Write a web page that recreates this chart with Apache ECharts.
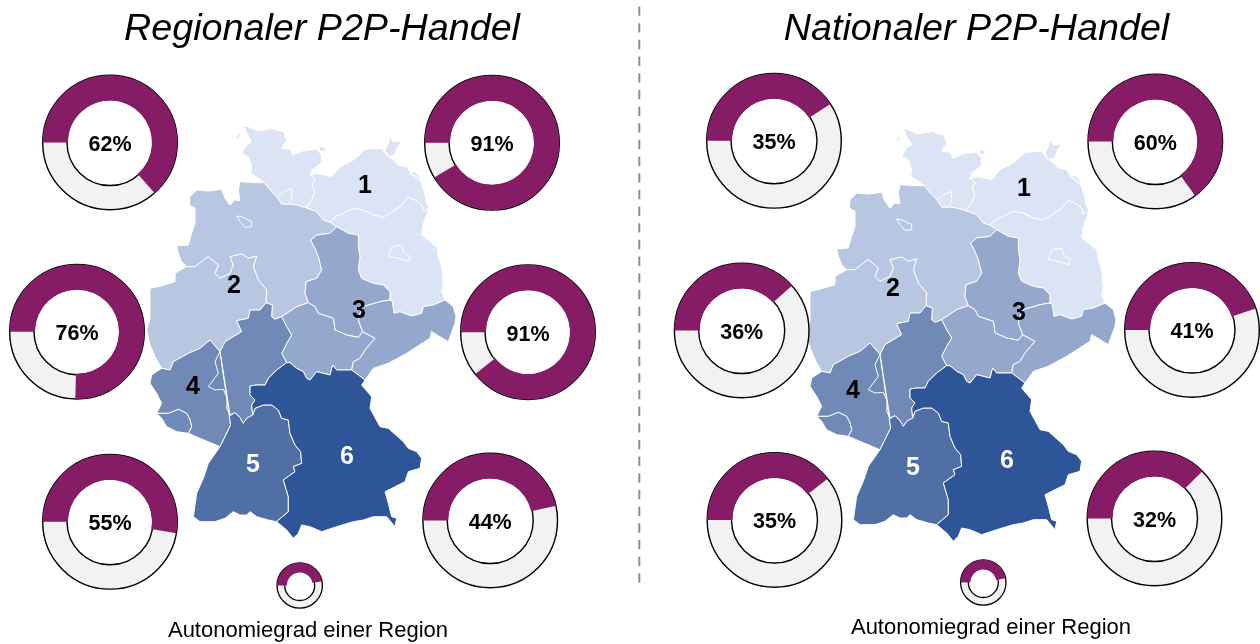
<!DOCTYPE html>
<html><head><meta charset="utf-8">
<style>html,body{margin:0;padding:0;background:#fff}#c{width:1260px;height:644px}</style>
<script src="https://cdn.jsdelivr.net/npm/echarts@6/dist/echarts.min.js"></script>
</head><body><div id="c"></div>
<script>
// ---- data ----
const panelTitles = ['Regionaler P2P-Handel', 'Nationaler P2P-Handel'];
const caption = 'Autonomiegrad einer Region';
const regionLabels = ['1', '2', '3', '4', '5', '6'];
// printed percentages
const regionalAutonomy = [62, 91, 76, 91, 55, 44];
const nationalAutonomy = [35, 60, 36, 41, 35, 32];
// share of the ring actually coloured
const regionalArcs = [63.5, 91.4, 75.4, 89.3, 52.7, 46.5];
const nationalArcs = [40.8, 64.9, 38.4, 44.8, 39.5, 37.6];
const legendSample = 47;
const stateRegion = {SH:0,HH:0,MV:0,BB:0,BE:0,NI:1,HB:1,NW:1,ST:2,TH:2,SN:2,HE:3,RP:3,SL:3,BW:4,BY:5};

// ---- map outline arcs (tracing units) ----
const shCoast=[[310,45],[330,52],[350,62],[375,60],[395,55],[415,62],[430,65],[440,90],[425,115],[450,118],[458,135],[490,122],[530,118],[545,135],[543,160],[515,180],[512,197]];
const shMv=[[512,197],[525,210],[517,225],[525,245],[515,270],[497,293]];
const shNi=[[497,293],[470,285],[445,282],[425,282],[412,262],[395,245],[372,218]];
const shWest=[[372,218],[345,198],[332,190],[335,170],[325,140],[305,130],[320,105],[335,95],[320,70],[310,45]];
const mvCoast=[[512,197],[530,190],[575,200],[600,170],[640,150],[675,118],[725,115],[740,135],[760,150],[775,165],[800,170],[812,190],[838,205],[850,235],[860,280],[868,295]];
const mvBb=[[868,295],[850,303],[845,285],[825,270],[805,262],[780,290],[755,305],[730,322],[700,315],[670,300],[640,295],[610,310],[590,318],[570,337]];
const mvNi=[[497,293],[530,305],[550,330],[570,337]];
const bbNi=[[570,337],[590,350]];
const bbSt=[[590,350],[625,370],[655,375],[655,410],[660,440],[655,480],[665,505],[700,520],[730,525],[750,545],[750,570]];
const bbSn=[[750,570],[757,575],[762,610],[780,605],[815,618],[845,610],[850,590],[880,585],[915,570]];
const bbEast=[[915,570],[905,545],[910,520],[905,470],[895,440],[890,410],[845,375],[850,340],[868,295]];
const niSt=[[590,350],[570,370],[530,375],[512,390],[525,415],[535,440],[545,480],[530,505],[498,515],[495,550],[505,578]];
const niTh=[[505,578],[470,590],[425,620]];
const niHe=[[425,620],[405,628],[395,620],[397,585],[378,578]];
const niNw=[[378,578],[380,540],[355,510],[340,470],[350,438],[325,445],[305,432],[270,440],[280,465],[270,490],[240,505],[225,490],[235,465],[205,440],[190,450],[165,470],[140,470]];
const niCoast=[[140,470],[125,455],[115,430],[110,408],[145,405],[155,370],[165,340],[165,295],[148,285],[150,260],[170,240],[205,243],[245,238],[255,265],[270,285],[285,270],[300,272],[295,240],[300,215],[345,218],[372,218]];
const nwHe=[[378,578],[360,600],[330,600],[325,625],[290,632],[305,665],[280,680],[255,695],[240,725]];
const nwRp=[[240,725],[210,690],[180,715],[145,730],[100,755],[90,780],[65,775]];
const nwWest=[[65,775],[50,750],[30,705],[20,660],[30,625],[30,575],[30,535],[55,530],[105,515],[105,490],[140,470]];
const heTh=[[425,620],[440,650],[455,675],[440,700],[425,730],[440,758]];
const heBy=[[440,758],[410,780],[385,805],[375,825],[350,825],[330,828],[330,855],[345,870],[335,885],[338,915]];
const heBw=[[338,915],[320,925],[310,940],[300,923],[285,908],[270,915]];
const heRp=[[270,915],[260,895],[262,865],[250,838],[225,840],[205,830],[235,790],[225,755],[240,725]];
const rpWest=[[65,775],[35,795],[30,820],[50,850],[65,880],[50,910]];
const rpSl=[[50,910],[85,910],[115,898],[140,910],[150,930],[155,950],[145,970]];
const rpSouth=[[145,970],[180,985],[240,1010]];
const rpBw=[[240,1010],[255,980],[272,945],[268,918],[270,915]];
const slSouth=[[145,970],[110,965],[80,950],[65,925],[50,910]];
const thSt=[[505,578],[525,590],[535,610],[580,625],[585,660],[620,675],[655,682],[668,665]];
const thSn=[[668,665],[705,685],[675,720],[660,745],[640,755],[635,780]];
const thBy=[[635,780],[590,780],[578,765],[570,795],[530,785],[510,810],[500,805],[490,785],[470,775],[450,758],[440,758]];
const stSn=[[668,665],[655,630],[660,610],[670,590],[720,575],[750,570]];
const snEast=[[915,570],[940,590],[948,620],[945,640],[925,695],[900,680],[875,665],[870,685],[800,730],[745,760],[700,775],[675,810],[635,780]];
const byEast=[[635,780],[675,810],[665,825],[695,860],[690,895],[720,950],[745,955],[790,995],[805,1015],[830,1025],[845,1045],[840,1075],[805,1085],[795,1115],[735,1145],[745,1180],[755,1220],[770,1225],[765,1250],[740,1220],[700,1220],[670,1230],[640,1235],[590,1250],[545,1265],[510,1250],[485,1245],[475,1270],[460,1285],[440,1260],[410,1235]];
const bwBy=[[338,915],[345,895],[370,885],[395,885],[415,900],[425,925],[445,930],[450,970],[465,1005],[482,1025],[485,1060],[460,1070],[465,1085],[430,1110],[445,1160],[445,1205],[410,1235]];
const bwSouth=[[410,1235],[385,1230],[350,1220],[330,1205],[320,1215],[300,1215],[280,1205],[255,1225],[225,1235],[180,1235],[160,1220],[170,1150],[190,1105],[205,1060],[240,1010]];
const ruegen=[[750,80],[760,95],[785,95],[770,115],[765,135],[745,140],[735,120],[745,100],[750,80]];
const usedom=[[810,190],[825,185],[843,205],[835,212],[810,190]];
const fehmarn=[[540,108],[558,115],[552,125],[538,122],[540,108]];
const sylt=[[300,70],[303,76],[290,86],[287,80],[300,70]];
const eastFrisian=[[115,249],[132,245],[132,248],[115,252],[115,249]];
const hamburg=[[412,262],[430,245],[455,235],[455,265],[445,282],[425,282],[412,262]];
const berlin=[[745,440],[755,410],[785,405],[790,425],[810,440],[805,455],[775,445],[745,440]];
const bremen=[[290,318],[305,320],[335,335],[335,350],[315,352],[300,335],[290,318]];

const rev = a => a.slice().reverse();
const ring = (...arcs) => [arcs.flat()];
const stateShapes = {
  SH:[ring(shCoast,shMv,shNi,shWest),[fehmarn],[sylt]],
  MV:[ring(mvCoast,mvBb,rev(mvNi),rev(shMv)),[ruegen],[usedom]],
  BB:[ring(bbNi,bbSt,bbSn,bbEast,mvBb)],
  NI:[ring(niSt,niTh,niHe,niNw,niCoast,rev(shNi),mvNi,bbNi),[eastFrisian]],
  NW:[ring(rev(niNw),nwHe,nwRp,nwWest)],
  ST:[ring(niSt,thSt,stSn,rev(bbSt))],
  TH:[ring(rev(niTh),thSt,thSn,thBy,rev(heTh))],
  SN:[ring(stSn,bbSn,snEast,rev(thSn))],
  HE:[ring(rev(niHe),heTh,heBy,heBw,heRp,rev(nwHe))],
  RP:[ring(nwRp,rpWest,rpSl,rpSouth,rpBw,rev(heRp))],
  SL:[ring(rpSl,slSouth)],
  BW:[ring(bwBy,bwSouth,rpBw,rev(heBw))],
  BY:[ring(heBy,bwBy,rev(byEast),thBy)],
  HH:[[hamburg]], BE:[[berlin]], HB:[[bremen]]
};

// ---- styles & layout ----
const regionColors = ['#dbe4f4','#b8c7e1','#94a8ce','#7089b7','#5070a5','#2e5597'];
const labelColors = ['#000','#000','#000','#000','#fff','#fff'];
const PURPLE = '#871c66', GRAY = '#f2f2f2';
const donutCenters = [
 [[110,142.5],[492,142.8],[77,331.7],[528,332.2],[110,521.8],[490.2,520.5]],
 [[774,140.8],[1155.3,141.5],[741.7,330.5],[1192,330],[774.5,520],[1154.5,518.5]]
];
const legendCenters = [[299.7,585.5],[983.3,582.5]];
const labelPos = [
 [[365,186],[234,286],[359,311],[193,387],[253,465],[347,457]],
 [[1024,189],[893,289],[1019,313],[853,391],[913,468],[1007,461]]
];
const mapOffsets = [[140,110],[800,113]];
const titlePos = [[322,30],[976.5,30]];
const captionPos = [[308,631],[991,628]];

const geojson = {type:'FeatureCollection',features:Object.keys(stateShapes).map(n=>({
  type:'Feature',properties:{name:n},geometry:{type:'MultiPolygon',coordinates:stateShapes[n]}}))};
echarts.registerMap('de',geojson);
const pts = Object.values(stateShapes).flat(3);
const xs = pts.map(p=>p[0]), ys = pts.map(p=>p[1]);
const minX=Math.min(...xs),maxX=Math.max(...xs),minY=Math.min(...ys),maxY=Math.max(...ys);

const geos = mapOffsets.map(o=>({
  map:'de',silent:true,roam:false,
  projection:{project:p=>p,unproject:p=>p},
  left:o[0]+minX/3,top:o[1]+minY/3,width:(maxX-minX)/3,height:(maxY-minY)/3,
  label:{show:false},
  itemStyle:{areaColor:'#fff',borderColor:'#fff',borderWidth:1},
  regions:Object.keys(stateRegion).map(n=>({name:n,itemStyle:{areaColor:regionColors[stateRegion[n]],borderColor:'#fff',borderWidth:1}}))
}));

function donut(center,arc,printed,R,rGray,rPurple,lw){
  const base={type:'pie',center,silent:true,animation:false,startAngle:180,clockwise:true,
    avoidLabelOverlap:false,labelLine:{show:false},emphasis:{disabled:true}};
  return [
    {...base,radius:[rGray,R],label:{show:false},
     itemStyle:{color:GRAY,borderColor:'#000',borderWidth:lw},data:[{value:100,name:'Rest'}]},
    {...base,radius:[rPurple,R],
     data:[
      {value:arc,name:'Autonomie',itemStyle:{color:PURPLE},
       label:{show:printed!==null,position:'center',offset:[0,2.5],formatter:printed+'%',fontFamily:'Liberation Sans',fontWeight:'bold',fontSize:21.5,color:'#000'}},
      {value:100-arc,name:'Rest',itemStyle:{color:'rgba(0,0,0,0)'},label:{show:false}}
     ]}
  ];
}
const series=[];
[[regionalAutonomy,regionalArcs],[nationalAutonomy,nationalArcs]].forEach(([vals,arcs],p)=>{
  vals.forEach((v,i)=>series.push(...donut(donutCenters[p][i],arcs[i],v,67.3,43,42,1.4)));
  series.push(...donut(legendCenters[p],legendSample,null,22.7,15,13,1.3));
});
const text=(x,y,t,font,fill)=>({type:'text',x,y,z:10,silent:true,style:{text:t,font,fill,align:'center',verticalAlign:'middle'}});
const graphics=[{type:'line',silent:true,shape:{x1:639.3,y1:-10.2,x2:639.3,y2:582.7},style:{stroke:'#8e8e8e',lineWidth:2,lineDash:[9.4,7.27]}}];
[0,1].forEach(p=>{
  graphics.push(text(titlePos[p][0],titlePos[p][1],panelTitles[p],'italic 37.7px "Liberation Sans"','#000'));
  graphics.push(text(captionPos[p][0],captionPos[p][1],caption,'22px "Liberation Sans"','#000'));
  regionLabels.forEach((t,i)=>graphics.push(text(labelPos[p][i][0],labelPos[p][i][1],t,'bold 25px "Liberation Sans"',labelColors[i])));
});
const chart=echarts.init(document.getElementById('c'),null,{renderer:'canvas'});
chart.setOption({animation:false,backgroundColor:'#fff',geo:geos,series,graphic:graphics});
</script></body></html>
